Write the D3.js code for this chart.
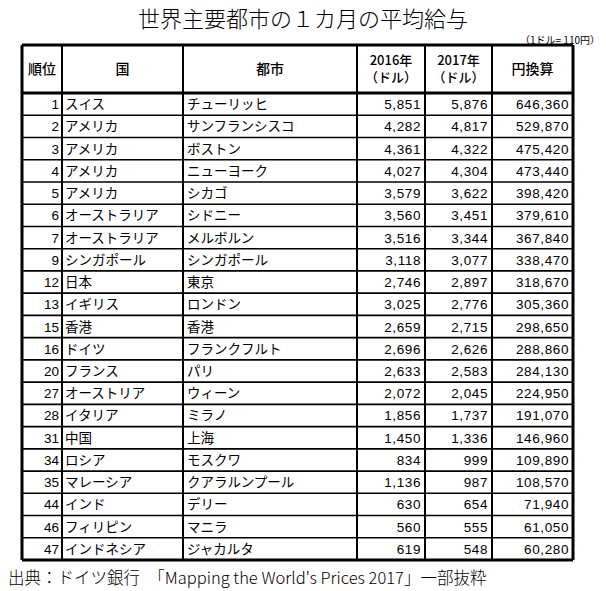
<!DOCTYPE html>
<html><head><meta charset="utf-8">
<script src="https://cdn.jsdelivr.net/npm/d3@7"></script>
<style>body{margin:0;background:#fff}</style></head>
<body><svg id="c" width="606" height="591"></svg>
<script>
const ranks=[1,2,3,4,5,6,7,9,12,13,15,16,20,27,28,31,34,35,44,46,47];
const countries=["スイス","アメリカ","アメリカ","アメリカ","アメリカ","オーストラリア","オーストラリア","シンガポール","日本","イギリス","香港","ドイツ","フランス","オーストリア","イタリア","中国","ロシア","マレーシア","インド","フィリピン","インドネシア"];
const cities=["チューリッヒ","サンフランシスコ","ボストン","ニューヨーク","シカゴ","シドニー","メルボルン","シンガポール","東京","ロンドン","香港","フランクフルト","パリ","ウィーン","ミラノ","上海","モスクワ","クアラルンプール","デリー","マニラ","ジャカルタ"];
const usd2016=[5851,4282,4361,4027,3579,3560,3516,3118,2746,3025,2659,2696,2633,2072,1856,1450,834,1136,630,560,619];
const usd2017=[5876,4817,4322,4304,3622,3451,3344,3077,2897,2776,2715,2626,2583,2045,1737,1336,999,987,654,555,548];
const yen=[646360,529870,475420,473440,398420,379610,367840,338470,318670,305360,298650,288860,284130,224950,191070,146960,109890,108570,71940,61050,60280];

const svg=d3.select("#c");
const jp="'Noto Sans CJK JP',sans-serif", num="'Liberation Sans',Arial,sans-serif";
const colX=[22,62,183,357,425,492,573];
const tableTop=45, headH=48, rowH=22.24;
const y=d3.scaleLinear().domain([0,ranks.length]).range([tableTop+headH, tableTop+headH+rowH*ranks.length]);
const fmt=d3.format(",");

svg.append("text").attr("x",303).attr("y",27).attr("text-anchor","middle")
 .attr("font-family",jp).attr("font-weight",300).attr("font-size",22).text("世界主要都市の１カ月の平均給与");
svg.append("text").attr("x",600).attr("y",44).attr("text-anchor","end")
 .attr("font-family",jp).attr("font-size",10).text("（1ドル= 110円）");

const heads=[["順位"],["国"],["都市"],["2016年","（ドル）"],["2017年","（ドル）"],["円換算"]];
heads.forEach((h,i)=>{
  const cx=(colX[i]+colX[i+1])/2;
  h.forEach((t,j)=>svg.append("text").attr("x",cx)
    .attr("y",h.length==1? tableTop+headH/2+5 : tableTop+20+j*17).attr("text-anchor","middle")
    .attr("font-family",jp).attr("font-weight",500).attr("font-size",h.length==1?14:13).text(t));
});

const rows=d3.range(ranks.length);
const g=svg.append("g").attr("font-size",13.5);
rows.forEach(i=>{
  const by=y(i)+rowH/2+5;
  g.append("text").attr("x",colX[1]-3).attr("y",by).attr("text-anchor","end").attr("font-family",num).text(ranks[i]);
  g.append("text").attr("x",colX[1]+3).attr("y",by).attr("font-family",jp).text(countries[i]);
  g.append("text").attr("x",colX[2]+4).attr("y",by).attr("font-family",jp).text(cities[i]);
  [usd2016,usd2017,yen].forEach((arr,k)=>g.append("text").attr("x",colX[3+k+1]-4).attr("y",by)
    .attr("text-anchor","end").attr("font-family",num).attr("letter-spacing",0.6).text(fmt(arr[i])));
});

const bottom=y(ranks.length);
colX.forEach((x,i)=>svg.append("line").attr("x1",x).attr("x2",x).attr("y1",tableTop).attr("y2",bottom)
  .attr("stroke","#000").attr("stroke-width",(i==0||i==colX.length-1)?3:2));
d3.range(ranks.length+1).forEach(i=>svg.append("line").attr("x1",colX[0]).attr("x2",colX[6])
  .attr("y1",y(i)).attr("y2",y(i)).attr("stroke","#000").attr("stroke-width",(i==0||i==ranks.length)?3:1.6));
svg.append("line").attr("x1",colX[0]).attr("x2",colX[6]).attr("y1",tableTop).attr("y2",tableTop).attr("stroke","#000").attr("stroke-width",3);

svg.append("text").attr("x",8).attr("y",584).attr("font-family",jp).attr("font-weight",300).attr("font-size",16.5)
 .text("出典：ドイツ銀行　「Mapping the World's Prices 2017」一部抜粋");
</script></body></html>
